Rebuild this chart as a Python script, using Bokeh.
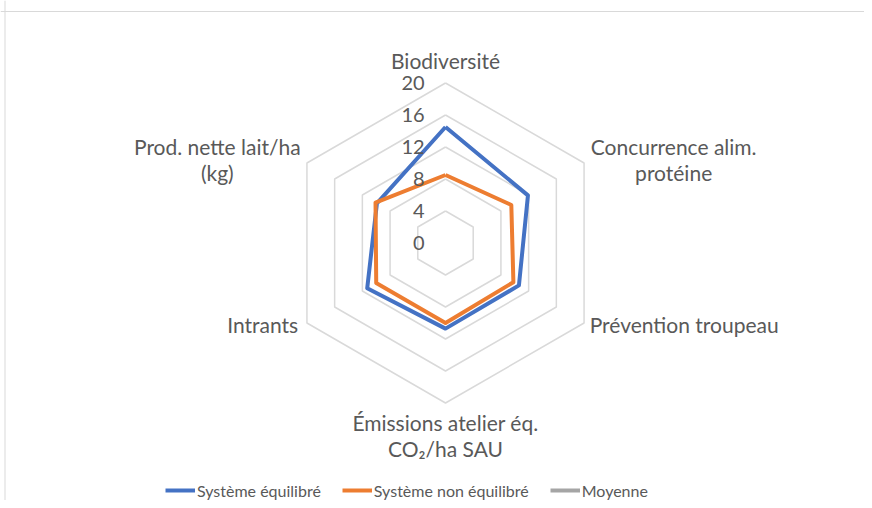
import math
from bokeh.plotting import figure
from bokeh.models import Range1d, Span, Legend, LegendItem
from bokeh.core.properties import value
from bokeh.embed import file_html
from bokeh.resources import INLINE

# ---------------- data ----------------
categories = [
    "Biodiversité",
    "Concurrence alim.\nprotéine",
    "Prévention troupeau",
    "Émissions atelier éq.\nCO₂/ha SAU",
    "Intrants",
    "Prod. nette lait/ha\n(kg)",
]
systeme_equilibre = [14.5, 11.9, 10.6, 10.7, 11.3, 9.9]
systeme_non_equilibre = [8.5, 9.5, 9.8, 10.0, 10.0, 10.1]
moyenne = [None, None, None, None, None, None]
tick_values = [0, 4, 8, 12, 16, 20]
tick_labels = ["0", "4", "8", "12", "16", "20"]
series_names = ["Système équilibré", "Système non équilibré", "Moyenne"]

# ---------------- layout ----------------
W, H = 864, 500
CX, CY = 445, 242.5        # centre in figure px
PX_PER_UNIT = 8.0
FONT = "Lato"
TXT = "#595959"
GRID = "#d9d9d9"
colors = ["#4472C4", "#ED7D31", "#A5A5A5"]

p = figure(width=W, height=H, output_backend="svg", toolbar_location=None,
           x_axis_type=None, y_axis_type=None, min_border=0,
           x_range=Range1d(-CX / PX_PER_UNIT, (W - CX) / PX_PER_UNIT),
           y_range=Range1d(-(H - CY) / PX_PER_UNIT, CY / PX_PER_UNIT))
p.grid.visible = False
p.outline_line_color = None
p.background_fill_color = "white"

n = len(categories)
angles = [math.radians(90 - 360.0 * i / n) for i in range(n)]

def ring_xy(vals):
    xs = [v * math.cos(a) for v, a in zip(vals, angles)]
    ys = [v * math.sin(a) for v, a in zip(vals, angles)]
    return xs + xs[:1], ys + ys[:1]

# grid hexagons
rings = [t for t in tick_values if t > 0]
gx, gy = [], []
for r in rings:
    xs, ys = ring_xy([r] * n)
    gx.append(xs)
    gy.append(ys)
p.multi_line(gx, gy, line_color=GRID, line_width=1.5)

# series
renderers = []
for vals, col in zip([systeme_equilibre, systeme_non_equilibre, moyenne], colors):
    vv = [float("nan") if v is None else v for v in vals]
    xs, ys = ring_xy(vv)
    r = p.line(xs, ys, line_color=col, line_width=4, line_join="round")
    renderers.append(r)

# tick labels
p.text(x=[-2.6] * len(tick_values), y=tick_values, text=tick_labels,
       text_font=value(FONT), text_font_size="20px", text_color=TXT,
       text_align="right", text_baseline="middle")

# category labels
rmax = max(tick_values)
offsets = [(0, 2.8, "center"), (11.2, 0.4, "center"), (0.7, -0.2, "left"),
           (0, -4.1, "center"), (-1.1, -0.2, "right"), (-11.2, 0.4, "center")]
for cat, a, (dx, dy, al) in zip(categories, angles, offsets):
    bx = rmax * math.cos(a) + dx
    by = rmax * math.sin(a) + dy
    p.text(x=[bx], y=[by], text=[cat], text_font=value(FONT),
           text_font_size="21px", text_color=TXT, text_align=al,
           text_baseline="middle", text_line_height=1.05)

# chart border (top & left)
p.add_layout(Span(location=(CY - 11) / PX_PER_UNIT, dimension="width",
                  line_color=GRID, line_width=1))
p.add_layout(Span(location=(-CX + 4.5) / PX_PER_UNIT, dimension="height",
                  line_color=GRID, line_width=1))

legend = Legend(items=[LegendItem(label=nm, renderers=[r])
                       for nm, r in zip(series_names, renderers)],
                orientation="horizontal", location=(165, 0),
                label_text_font=FONT, label_text_font_size="16px",
                label_text_color=TXT, glyph_width=30, glyph_height=20,
                label_height=20, label_standoff=2, spacing=21, padding=0,
                margin=0, border_line_alpha=0, background_fill_alpha=0)
p.add_layout(legend)

open("out.html", "w").write(file_html(p, INLINE))
